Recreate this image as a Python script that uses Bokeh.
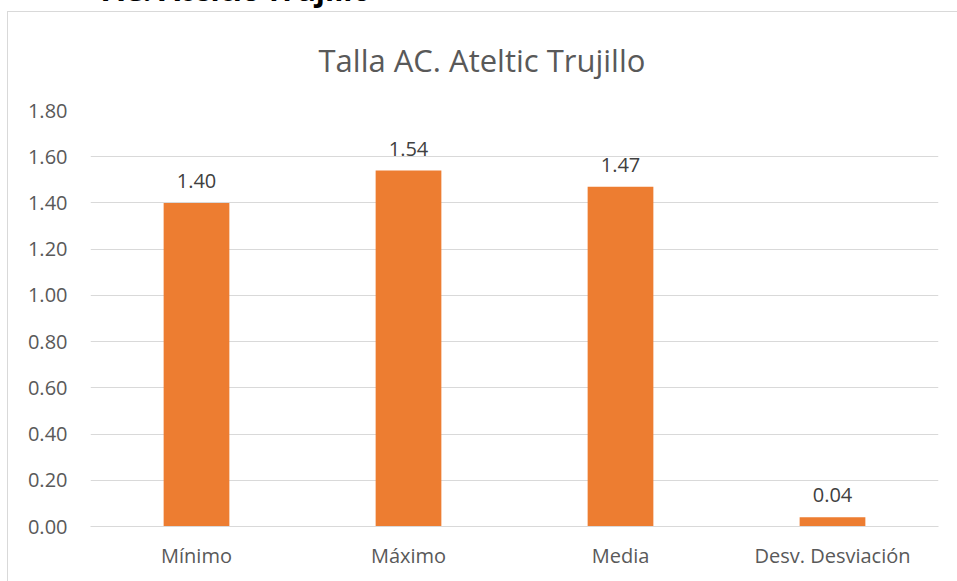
from bokeh.plotting import figure
from bokeh.models import ColumnDataSource, LabelSet, FactorRange, CustomJSTickFormatter, InlineStyleSheet, Div
from bokeh.layouts import column
from bokeh.core.properties import value
from bokeh.embed import file_html
from bokeh.resources import INLINE

categories = ["Mínimo", "Máximo", "Media", "Desv. Desviación"]
values = [1.40, 1.54, 1.47, 0.04]
labels = ["1.40", "1.54", "1.47", "0.04"]
y_ticks = [0, 0.2, 0.4, 0.6, 0.8, 1.0, 1.2, 1.4, 1.6, 1.8]
title_text = "Talla AC. Ateltic Trujillo"
heading_text = "AC. Ateltic Trujillo"

FONT = "Open Sans"
W, H = 949, 573
FL, FR, FT, FB = 90, 938, 110, 526  # frame edges in canvas px
YMAX = 1.8

src = ColumnDataSource(dict(cat=categories, val=values, lab=labels))

p = figure(x_range=FactorRange(*categories), y_range=(0, YMAX),
           width=W, height=H, output_backend="svg", toolbar_location=None,
           min_border_left=FL, min_border_right=W - FR, min_border_top=FT,
           min_border_bottom=H - FB)
p.outline_line_color = None
p.background_fill_color = "white"
p.border_fill_color = "white"

p.title.text = title_text
p.title.align = "left"
p.title.offset = 228
p.title.standoff = 59
p.title.text_font = FONT
p.title.text_font_size = "31px"
p.title.text_font_style = "normal"
p.title.text_color = "#595959"

p.vbar(x="cat", top="val", width=0.31, source=src, color="#ED7D31", line_color=None)

p.add_layout(LabelSet(x="cat", y="val", text="lab", source=src, text_align="center",
                      text_baseline="alphabetic", y_offset=15, text_font_size="20px",
                      text_color="#404040", text_font=value(FONT)))

p.yaxis.ticker = y_ticks
p.yaxis.formatter = CustomJSTickFormatter(code="return tick.toFixed(2);")
p.yaxis.axis_line_color = None
p.yaxis.major_tick_line_color = None
p.yaxis.minor_tick_line_color = None
p.yaxis.major_tick_out = 0
p.yaxis.major_tick_in = 0
p.yaxis.minor_tick_out = 0
p.yaxis.major_label_standoff = 23
p.yaxis.major_label_text_font_size = "20px"
p.yaxis.major_label_text_color = "#595959"
p.yaxis.major_label_text_font = FONT

p.xaxis.axis_line_color = "#d9d9d9"
p.xaxis.major_tick_line_color = None
p.xaxis.minor_tick_line_color = None
p.xaxis.major_tick_out = 0
p.xaxis.major_tick_in = 0
p.xaxis.minor_tick_out = 0
p.xaxis.major_label_standoff = 15
p.xaxis.major_label_text_font_size = "20px"
p.xaxis.major_label_text_color = "#595959"
p.xaxis.major_label_text_font = FONT

p.xgrid.grid_line_color = None
p.ygrid.grid_line_color = "#d9d9d9"
p.ygrid.grid_line_width = 1

# chart area border (top and left edges visible)
p.stylesheets = [InlineStyleSheet(css="""
:host::after {
  content: '';
  position: absolute;
  left: 7px; top: 11px; right: -20px; bottom: -20px;
  border-left: 1.5px solid #d9d9d9;
  border-top: 1.5px solid #d9d9d9;
  pointer-events: none;
  z-index: 5;
}
""")]

# document heading above the chart, cut off at the top of the picture
heading = Div(text=heading_text, width=360, height=30,
              styles={"position": "absolute", "top": "-25px", "left": "103px",
                      "font-family": "Open Sans", "font-weight": "bold",
                      "font-size": "30px", "line-height": "30px", "color": "black",
                      "z-index": "10", "white-space": "nowrap", "margin": "0"})

root = column(heading, p)
open("out.html", "w").write(file_html(root, INLINE))
